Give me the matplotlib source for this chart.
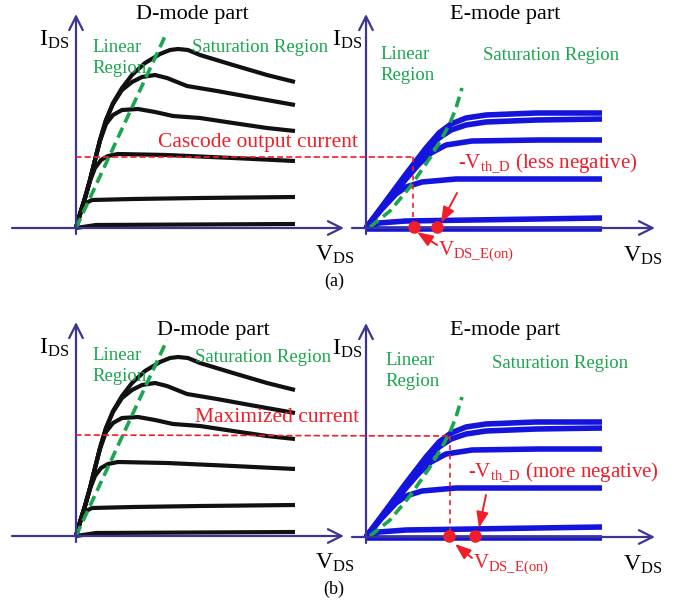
import numpy as np
import matplotlib.pyplot as plt
from matplotlib.patches import ConnectionPatch

plt.rcParams['font.family'] = ['Liberation Serif', 'DejaVu Serif']
plt.rcParams['mathtext.fontset'] = 'custom'
plt.rcParams['mathtext.rm'] = 'Liberation Serif'
plt.rcParams['mathtext.it'] = 'Liberation Serif:italic'

# D-MODE OUTPUT CURVES (V_DS, I_DS) - arbitrary units, same in (a) and (b)
d1_v = [0, 0.4, 0.9, 1.4, 1.9, 2.4, 3.0, 3.7, 4.6, 5.6, 6.9, 8.4, 9.4, 10.2, 11.2, 12.4, 15.7, 19.1, 21.9]
d1_i = [0, 1.4, 3.0, 4.8, 6.8, 8.8, 10.8, 12.5, 14.0, 15.3, 16.5, 17.4, 17.8, 17.9, 17.8, 17.3, 16.3, 15.3, 14.6]
d2_v = [0, 0.4, 0.9, 1.4, 1.9, 2.4, 3.0, 3.7, 4.6, 5.6, 6.6, 7.9, 9.1, 11.1, 14.1, 17.4, 21.9]
d2_i = [0, 1.4, 3.0, 4.8, 6.8, 8.8, 10.8, 12.4, 13.8, 14.6, 15.1, 15.3, 15.0, 14.2, 13.7, 13.1, 12.3]
d3_v = [0, 0.4, 0.9, 1.4, 1.9, 2.4, 3.0, 3.7, 4.6, 6.2, 7.9, 9.7, 12.4, 15.7, 19.1, 21.9]
d3_i = [0, 1.4, 3.0, 4.8, 6.8, 8.7, 10.4, 11.3, 11.8, 11.9, 11.6, 11.2, 11.0, 10.5, 10.0, 9.7]
d4_v = [0, 0.4, 0.9, 1.4, 1.9, 2.5, 3.2, 4.2, 9.1, 15.7, 21.9]
d4_i = [0, 1.4, 3.0, 4.7, 6.0, 6.8, 7.2, 7.4, 7.3, 7.0, 6.7]
d5_v = [0, 0.3, 0.6, 1.0, 1.6, 5.7, 12.4, 21.9]
d5_i = [0, 1.0, 2.0, 2.5, 2.8, 2.9, 3.0, 3.1]
d6_v = [0, 2.0, 21.9]
d6_i = [0, 0.3, 0.4]
d_curves = [(d1_v, d1_i), (d2_v, d2_i), (d3_v, d3_i), (d4_v, d4_i), (d5_v, d5_i), (d6_v, d6_i)]
d_lin_v = [0, 9.1]
d_lin_i = [0, 19.6]

# E-MODE OUTPUT CURVES
e1_v = [0, 2, 4, 6, 7.3, 8.5, 10, 12, 17, 23.6]
e1_i = [0, 2.7, 5.4, 8.0, 9.5, 10.4, 11.0, 11.3, 11.5, 11.5]
e2_v = [0, 2, 4, 6, 7.3, 8.5, 10, 12, 17, 23.6]
e2_i = [0, 2.6, 5.2, 7.6, 9.0, 9.8, 10.3, 10.6, 10.8, 10.9]
e3_v = [0, 2, 4, 5.3, 6.5, 8, 10.6, 17.3, 23.6]
e3_i = [0, 2.5, 4.9, 6.4, 7.5, 8.3, 8.7, 8.8, 8.8]
e4_v = [0, 1.5, 3.0, 4.0, 5.6, 9.0, 15.6, 23.6]
e4_i = [0, 1.8, 3.4, 4.1, 4.6, 4.9, 4.9, 4.9]
e5_v = [0, 1.3, 4.0, 10.6, 23.6]
e5_i = [0, 0.5, 0.7, 0.8, 1.0]
e6_v = [0, 23.6]
e6_i = [-0.1, -0.1]
e_curves = [(e1_v, e1_i), (e2_v, e2_i), (e3_v, e3_i), (e4_v, e4_i), (e5_v, e5_i), (e6_v, e6_i)]
e_lin_v = [0.4, 2.4, 4.4, 6.4, 7.6, 8.4, 9.0, 9.6]
e_lin_i = [0.1, 1.7, 4.1, 7.0, 9.0, 10.5, 12.0, 14.0]

# OPERATING POINTS: (a) cascode output current, (b) maximized current
op_current = [7.1, 10.1]
op_vds_on = [4.7, 8.4]
dot_v = [[4.8, 7.1], [8.3, 10.9]]
current_label = ['Cascode output current', 'Maximized current']
vth_label = ['(less negative)', '(more negative)']
panel_label = ['(a)', '(b)']

# figure in pixels
W, H = 685, 607
fig = plt.figure(figsize=(W / 100, H / 100), dpi=100)
px = 10.0  # pixels per unit

black = '#111111'
blue = '#1414dc'
green = '#1aa64e'
red = '#f01e28'
navy = '#3c3692'


def panel(ox, oy):
    ax = fig.add_axes([0, 0, 1, 1])
    ax.set_xlim(-ox / px, (W - ox) / px)
    ax.set_ylim((oy - H) / px, oy / px)
    ax.axis('off')
    ax.patch.set_alpha(0)
    return ax


def axis_arrows(ax, x0, x1, y0, y1):
    style = dict(arrowstyle='->,head_length=0.7,head_width=0.35', lw=1.6, color=navy,
                 shrinkA=0, shrinkB=0, mutation_scale=14)
    ax.annotate('', xy=(x1, 0), xytext=(x0, 0), arrowprops=style)
    ax.annotate('', xy=(0, y1), xytext=(0, y0), arrowprops=style)


red_arrow = dict(arrowstyle='-|>,head_length=0.8,head_width=0.3', lw=1.4, color=red,
                 shrinkA=0, shrinkB=0, mutation_scale=12)

origins = [((76, 228), (366, 228)), ((76, 536), (366, 537))]
d_title_pos = [(11.6, 21.3), (13.7, 20.6)]
e_title_pos = [(13.9, 21.3), (13.9, 20.7)]
d_sat_pos = [(11.6, 18.0), (11.9, 17.9)]
e_lin_pos = [(1.4, 16.3), (1.9, 16.6)]
e_sat_pos = [(11.7, 17.3), (12.6, 17.4)]
cur_label_pos = [(8.2, 8.6), (11.9, 11.8)]
vth_pos = [(9.2, 6.5), (10.2, 6.5)]
vth_arrow = [((9.1, 3.5), (7.5, 0.5)), ((12.0, 4.2), (11.3, 0.9))]
von_arrow = [((7.1, -1.7), (5.1, -0.4)), ((10.6, -2.1), (8.9, -0.7))]
von_pos = [(7.2, -2.3), (10.7, -2.7)]

for k in range(2):
    (dox, doy), (eox, eoy) = origins[k]
    axd = panel(dox, doy)
    axe = panel(eox, eoy)

    # D-mode part
    axis_arrows(axd, -6.4, 26.8, -0.6, 21.4)
    for v, i in d_curves:
        axd.plot(v, i, color=black, lw=3.0, solid_capstyle='butt', solid_joinstyle='round')
    axd.plot(d_lin_v, d_lin_i, color=green, lw=2.6, dashes=(3, 1.6))
    axd.text(*d_title_pos[k], 'D-mode part', fontsize=16, ha='center', va='center')
    axd.text(-0.7, 18.8, r'I$_{\rm DS}$', fontsize=17, ha='right', va='center')
    axd.text(23.9, -2.7, r'V$_{\rm DS}$', fontsize=17, ha='left', va='center')
    axd.text(1.6, 17.0, 'Linear\nRegion', fontsize=13.5, color=green, ha='left', va='center',
             linespacing=1.25)
    axd.text(*d_sat_pos[k], 'Saturation Region', fontsize=13.5, color=green, ha='left', va='center')
    axd.text(25.8, -5.3, panel_label[k], fontsize=13, ha='center', va='center')
    axd.text(*cur_label_pos[k], current_label[k], fontsize=15.5, color=red, ha='left', va='center')

    # E-mode part
    axis_arrows(axe, -1.4, 28.9, -0.6, 21.4)
    for v, i in e_curves:
        axe.plot(v, i, color=blue, lw=4.0, solid_capstyle='butt', solid_joinstyle='round')
    axe.plot(e_lin_v, e_lin_i, color=green, lw=2.6, dashes=(3, 1.6))
    axe.text(*e_title_pos[k], 'E-mode part', fontsize=16, ha='center', va='center')
    axe.text(-0.4, 18.8, r'I$_{\rm DS}$', fontsize=17, ha='right', va='center')
    axe.text(25.7, -2.8, r'V$_{\rm DS}$', fontsize=17, ha='left', va='center')
    axe.text(*e_lin_pos[k], 'Linear\nRegion', fontsize=13.5, color=green, ha='left', va='center',
             linespacing=1.25)
    axe.text(*e_sat_pos[k], 'Saturation Region', fontsize=13.5, color=green, ha='left', va='center')

    # operating point lines
    con = ConnectionPatch(xyA=(0, op_current[k]), coordsA=axd.transData,
                          xyB=(op_vds_on[k], op_current[k]), coordsB=axe.transData,
                          arrowstyle='-', color=red, lw=1.2, linestyle=(0, (3, 2.5)))
    fig.add_artist(con)
    axe.plot([op_vds_on[k], op_vds_on[k]], [op_current[k], 0], color=red, lw=1.2,
             linestyle=(0, (3, 2.5)))
    axe.plot(dot_v[k], [0.1, 0.1], 'o', color=red, ms=8, zorder=5)

    axe.text(*vth_pos[k], r'-V$_{\rm th\_D}$' + ' ' + vth_label[k], fontsize=15, color=red,
             ha='left', va='center')
    axe.annotate('', xy=vth_arrow[k][1], xytext=vth_arrow[k][0], arrowprops=red_arrow)
    axe.annotate('', xy=von_arrow[k][1], xytext=von_arrow[k][0], arrowprops=red_arrow)
    axe.text(*von_pos[k], r'V$_{\rm DS\_E(on)}$', fontsize=15, color=red, ha='left', va='center')

fig.savefig('out.png', dpi=100)
